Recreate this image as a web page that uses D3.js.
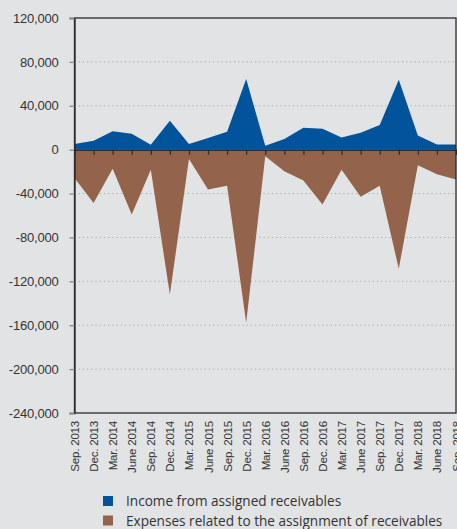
<!DOCTYPE html>
<html lang="en">
<head>
  <meta charset="utf-8">
  <title>Assigned receivables</title>
  <script src="https://d3js.org/d3.v7.min.js"></script>
  <style>
    body { margin: 0; background: #e2e3e5; }
    svg { display: block; font-family: "Open Sans", "Noto Sans", sans-serif; }
    .tick text { fill: #333; }
    .grid line { stroke: #a9a9a9; stroke-dasharray: 1.2 3; }
  </style>
</head>
<body>
<svg width="457" height="529"></svg>
<script>
// quarters Sep 2013 .. Sep 2018
var quarters = ["Sep. 2013", "Dec. 2013", "Mar. 2014", "June 2014", "Sep. 2014", "Dec. 2014",
  "Mar. 2015", "June 2015", "Sep. 2015", "Dec. 2015", "Mar. 2016", "June 2016", "Sep. 2016",
  "Dec. 2016", "Mar. 2017", "June 2017", "Sep. 2017", "Dec. 2017", "Mar. 2018", "June 2018", "Sep. 2018"];

var income = [5200, 8200, 16700, 14600, 4500, 26400, 5200, 10600, 16400, 64300, 3600,
  9700, 20000, 19100, 11200, 15500, 22400, 63700, 13000, 4800, 4800];

var expenses = [-25800, -48500, -17300, -59100, -18200, -132000, -8500, -36400, -32800, -157700, -6100,
  -19700, -28200, -50000, -18200, -43000, -32800, -108600, -14300, -22400, -27300];

var yTicks = [120000, 80000, 40000, 0, -40000, -80000, -120000, -160000, -200000, -240000];

var legendItems = [
  {label: "Income from assigned receivables", color: "#01539c"},
  {label: "Expenses related to the assignment of receivables", color: "#93634b"}
];

var svg = d3.select("svg"),
    margin = {top: 18, right: 1, bottom: 116, left: 74.5},
    width = +svg.attr("width") - margin.left - margin.right,
    height = +svg.attr("height") - margin.top - margin.bottom,
    g = svg.append("g").attr("transform", "translate(" + margin.left + "," + margin.top + ")");

var x = d3.scalePoint().domain(quarters).range([0, width]);
var y = d3.scaleLinear().domain([-240000, 120000]).range([height, 0]);
// plain hyphen for negatives, like the original
var fmt = d3.formatLocale({decimal: ".", thousands: ",", grouping: [3], currency: ["", ""], minus: "-"}).format(",");

// dotted grid
g.append("g")
    .attr("class", "grid")
  .selectAll("line")
  .data(yTicks.filter(function(d) { return d !== 0 && d !== 120000 && d !== -240000; }))
  .enter().append("line")
    .attr("x1", 0).attr("x2", width)
    .attr("y1", function(d) { return y(d); })
    .attr("y2", function(d) { return y(d); });

var area = d3.area()
    .x(function(d, i) { return x(quarters[i]); })
    .y0(y(0))
    .y1(function(d) { return y(d); });

g.append("path").datum(income).attr("fill", legendItems[0].color).attr("d", area);
g.append("path").datum(expenses).attr("fill", legendItems[1].color).attr("d", area);

// frame
g.append("rect")
    .attr("width", width).attr("height", height)
    .attr("fill", "none").attr("stroke", "#2b2b2b").attr("stroke-width", 1.3);

// y axis
var yAxis = g.append("g")
    .call(d3.axisLeft(y).tickValues(yTicks).tickFormat(fmt).tickSize(5).tickPadding(11));
yAxis.select(".domain").attr("stroke", "#2b2b2b").attr("stroke-width", 1.3);
yAxis.selectAll(".tick line").attr("stroke", "#8a8a8a").attr("stroke-width", 1.3);
yAxis.selectAll(".tick text").style("font-size", "13px").attr("letter-spacing", "-0.2");

// zero line with ticks
var zero = g.append("g")
    .attr("transform", "translate(0," + y(0) + ")")
    .call(d3.axisBottom(x).tickSize(5).tickFormat(""));
zero.select(".domain").attr("stroke", "#2b2b2b").attr("stroke-width", 1.5);
zero.selectAll(".tick line").attr("stroke", "#2b2b2b").attr("stroke-width", 1.2);

// bottom labels
var xAxis = g.append("g")
    .attr("transform", "translate(0," + height + ")")
    .call(d3.axisBottom(x).tickSize(0).tickPadding(0));
xAxis.select(".domain").remove();
xAxis.selectAll(".tick text")
    .style("font-size", "11.5px")
    .attr("letter-spacing", "-0.2")
    .attr("text-anchor", "end")
    .attr("transform", "rotate(-90)")
    .attr("x", -8)
    .attr("y", 0)
    .attr("dy", "0.35em");

// legend
var legend = svg.append("g").attr("transform", "translate(103,496)");
var item = legend.selectAll("g")
  .data(legendItems)
  .enter().append("g")
    .attr("transform", function(d, i) { return "translate(0," + (i * 19.5) + ")"; });
item.append("rect")
    .attr("width", 10).attr("height", 10)
    .attr("fill", function(d) { return d.color; });
item.append("text")
    .attr("x", 23).attr("y", 10)
    .attr("fill", "#333")
    .style("font-size", "13.6px")
    .text(function(d) { return d.label; });
</script>
</body>
</html>
